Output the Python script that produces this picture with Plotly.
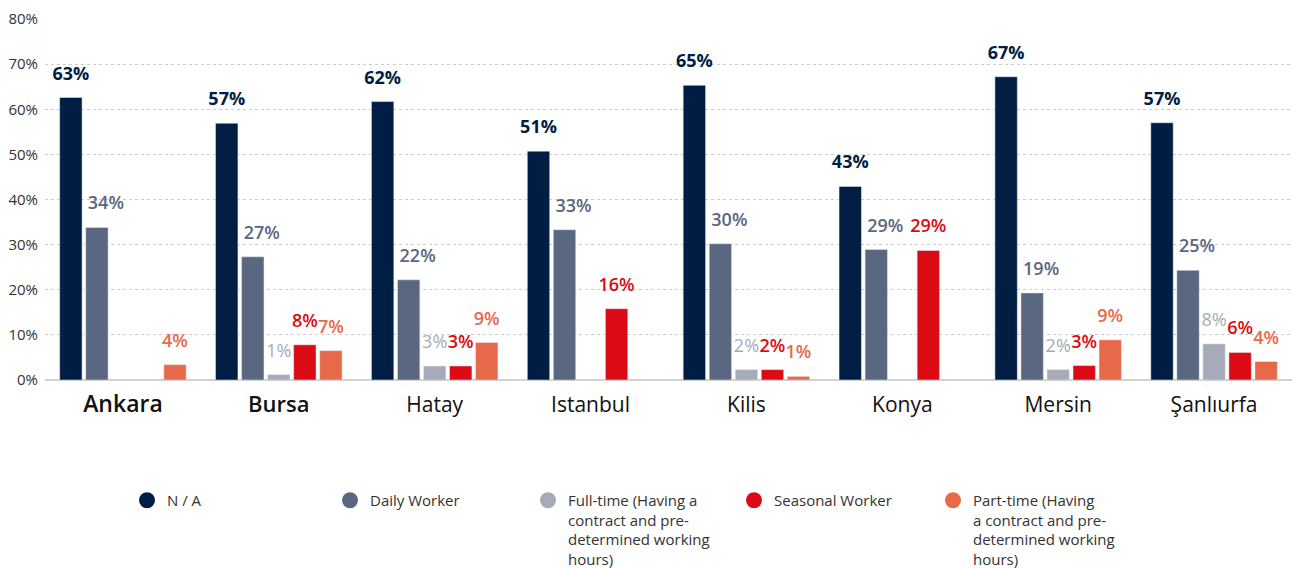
import plotly.graph_objects as go

cities = ["Ankara", "Bursa", "Hatay", "Istanbul", "Kilis", "Konya", "Mersin", "Şanlıurfa"]
city_ticks = [
    "<span style='font-size:23px;font-weight:600'>Ankara</span>",
    "<span style='font-size:22px;font-weight:600'>Bursa</span>",
    "Hatay", "Istanbul", "Kilis", "Konya", "Mersin", "Şanlıurfa",
]

series_names = [
    "N / A",
    "Daily Worker",
    "Full-time (Having a<br>contract and pre-<br>determined working<br>hours)",
    "Seasonal Worker",
    "Part-time (Having<br>a contract and pre-<br>determined working<br>hours)",
]

na_vals       = [62.6, 56.9, 61.7, 50.7, 65.3, 42.9, 67.2, 57.0]
daily_vals    = [33.8, 27.3, 22.2, 33.3, 30.2, 28.9, 19.3, 24.3]
fulltime_vals = [None, 1.2, 3.1, None, 2.3, None, 2.3, 8.0]
seasonal_vals = [None, 7.8, 3.1, 15.8, 2.3, 28.7, 3.2, 6.1]
parttime_vals = [3.4, 6.5, 8.3, None, 0.8, None, 8.9, 4.1]

na_labels       = [63, 57, 62, 51, 65, 43, 67, 57]
daily_labels    = [34, 27, 22, 33, 30, 29, 19, 25]
fulltime_labels = [None, 1, 3, None, 2, None, 2, 8]
seasonal_labels = [None, 8, 3, 16, 2, 29, 3, 6]
parttime_labels = [4, 7, 9, None, 1, None, 9, 4]

values = [na_vals, daily_vals, fulltime_vals, seasonal_vals, parttime_vals]
labels = [na_labels, daily_labels, fulltime_labels, seasonal_labels, parttime_labels]
colors = ["#001e43", "#5a6780", "#a6abb9", "#dc0a14", "#e8694a"]
weights = [700, 600, 500, 600, 600]
# the Daily Worker labels sit a little to the right of their bars
label_pad = ["", "\u2002\u2002", "", "", ""]
legend_ids = ["legend", "legend2", "legend3", "legend4", "legend5"]
legend_x_px = [127, 330, 528, 734, 933]

fig = go.Figure()
for k, (name, vals, labs, col, w, pad, lid) in enumerate(
        zip(series_names, values, labels, colors, weights, label_pad, legend_ids)):
    grp = f"g{k}"
    fig.add_trace(go.Bar(
        x=cities, y=vals, offsetgroup=grp,
        marker=dict(color=col),
        showlegend=False,
        hoverinfo="skip",
    ))
    # value labels, grouped the same way as the bars
    fig.add_trace(go.Scatter(
        x=cities, y=vals, offsetgroup=grp,
        mode="markers+text",
        marker=dict(size=20, opacity=0, color=col),
        text=[f"{pad}{l}%" if l is not None else "" for l in labs],
        textposition="top center",
        textfont=dict(family="Open Sans", size=18, color=col, weight=w),
        showlegend=False, cliponaxis=False, hoverinfo="skip",
    ))
    # legend proxy with circle symbol
    fig.add_trace(go.Scatter(
        x=[None], y=[None], mode="markers", name=name, offsetgroup=grp,
        marker=dict(symbol="circle", size=18, color=col),
        showlegend=True, legend=lid,
    ))

legend_common = dict(
    xref="container", yref="container", xanchor="left", yanchor="top",
    valign="top", bgcolor="rgba(0,0,0,0)", borderwidth=0,
    font=dict(family="Open Sans", size=15, color="#333333"),
    itemclick=False, itemdoubleclick=False,
)
layout_legends = {}
for lid, px in zip(legend_ids, legend_x_px):
    layout_legends[lid] = dict(legend_common, x=px / 1301, y=1 - 484 / 568)

fig.update_layout(
    width=1301, height=568,
    margin=dict(l=45, r=9, t=19, b=188, autoexpand=False),
    paper_bgcolor="white", plot_bgcolor="white",
    barmode="group", bargap=0.165, bargroupgap=0.14,
    scattermode="group", scattergap=0.165,
    font=dict(family="Open Sans", color="#333333"),
    **layout_legends,
)
fig.update_xaxes(
    tickvals=cities, ticktext=city_ticks,
    tickfont=dict(family="Open Sans", size=21, color="#111111", weight=500),
    showgrid=False, showline=False, ticks="", ticklabelstandoff=10,
)
fig.update_yaxes(
    range=[0, 80], dtick=10, ticksuffix="%",
    tickfont=dict(family="Open Sans", size=15, color="#333333"),
    showgrid=True, gridcolor="#cccccc", griddash="dot", gridwidth=1,
    zeroline=True, zerolinecolor="#d2d2d2", zerolinewidth=2,
    showline=False, ticks="", ticklabelstandoff=6,
)

fig.write_html(
    "out.html",
    config={"displayModeBar": False},
    post_script="document.body.style.margin='0';document.body.style.overflow='hidden';",
)
